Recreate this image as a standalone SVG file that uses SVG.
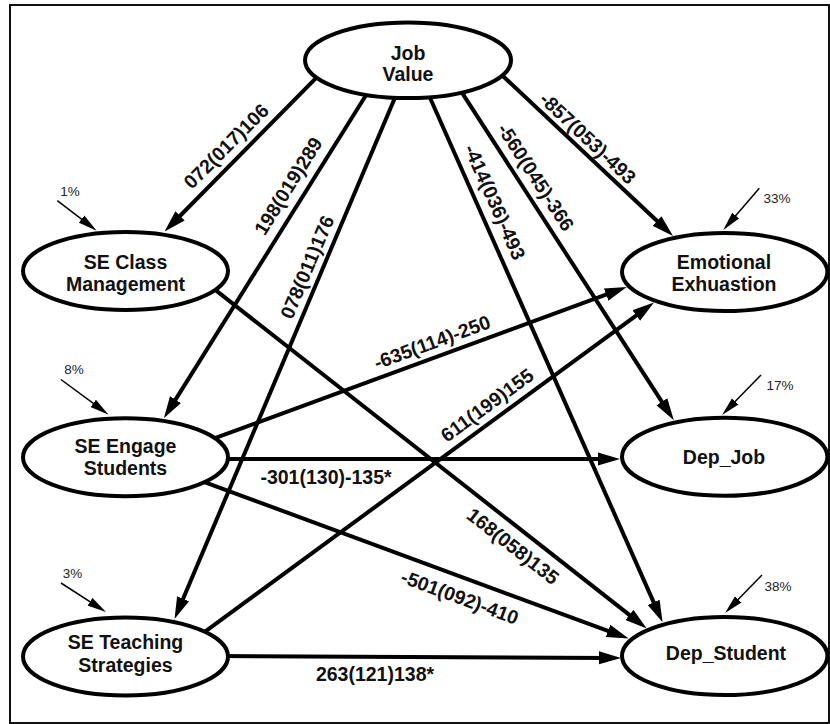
<svg xmlns="http://www.w3.org/2000/svg" width="830" height="724" viewBox="0 0 830 724">
<defs>
<style>
.frame{fill:none;stroke:#111;stroke-width:2}
.node ellipse{fill:#fff;stroke:#000;stroke-width:4}
.nt{font-family:"Liberation Sans",Arial,sans-serif;font-weight:bold;font-size:19.5px;fill:#111;text-anchor:middle}
.edge{stroke:#000;stroke-width:4;fill:none;marker-end:url(#arr)}
.lbl{font-family:"Liberation Sans",Arial,sans-serif;font-weight:bold;font-size:19.5px;fill:#111;text-anchor:middle}
.res{stroke:#000;stroke-width:1.5;fill:none;marker-end:url(#arrs)}
.pct{font-family:"Liberation Sans",Arial,sans-serif;font-size:13.5px;fill:#222;text-anchor:middle}
</style>
<marker id="arr" markerUnits="userSpaceOnUse" viewBox="0 0 22 14" markerWidth="22" markerHeight="14" refX="10" refY="7" orient="auto">
<path d="M0,0.5 L22,7 L0,13.5 z" fill="#000"/>
</marker>
<marker id="arrs" markerUnits="userSpaceOnUse" viewBox="0 0 19 10" markerWidth="19" markerHeight="10" refX="9" refY="5" orient="auto">
<path d="M0,0.5 L19,5 L0,9.5 z" fill="#000"/>
</marker>
</defs>
<rect class="frame" x="10" y="5" width="819" height="718"/>
<g id="connectors">
<line class="edge" x1="322.6" y1="71.4" x2="173" y2="223"/>
<line class="edge" x1="371" y1="87.3" x2="170.2" y2="408.1"/>
<line class="edge" x1="399.8" y1="86.2" x2="179.2" y2="608"/>
<line class="edge" x1="424.9" y1="86.3" x2="657.7" y2="611.4"/>
<line class="edge" x1="457.9" y1="86.4" x2="667.3" y2="410.2"/>
<line class="edge" x1="494" y1="67.7" x2="664.3" y2="227.8"/>
<line class="edge" x1="204.4" y1="281.4" x2="637.3" y2="621.1"/>
<line class="edge" x1="203.9" y1="442.2" x2="615.5" y2="291.1"/>
<line class="edge" x1="215" y1="459" x2="608" y2="459"/>
<line class="edge" x1="192.9" y1="477.8" x2="617.4" y2="634.4"/>
<line class="edge" x1="197.9" y1="636.9" x2="644.3" y2="309.6"/>
<line class="edge" x1="215" y1="656" x2="609" y2="657.9"/>
<text class="lbl" transform="translate(226,146) rotate(-45)" y="7">072(017)106</text>
<text class="lbl" transform="translate(288,186) rotate(-58)" y="7">198(019)289</text>
<text class="lbl" transform="translate(307,267) rotate(-67.1)" y="7">078(011)176</text>
<text class="lbl" transform="translate(495,202) rotate(66.1)" y="7">-414(036)-493</text>
<text class="lbl" transform="translate(536,177) rotate(57.1)" y="7">-560(045)-366</text>
<text class="lbl" transform="translate(588,138) rotate(43.2)" y="7">-857(053)-493</text>
<text class="lbl" transform="translate(513,546) rotate(38.1)" y="7">168(058)135</text>
<text class="lbl" transform="translate(432,342) rotate(-20.2)" y="7">-635(114)-250</text>
<text class="lbl" transform="translate(326,477)" y="7">-301(130)-135*</text>
<text class="lbl" transform="translate(460,597) rotate(20.3)" y="7">-501(092)-410</text>
<text class="lbl" transform="translate(487,405) rotate(-36.2)" y="7">611(199)155</text>
<text class="lbl" transform="translate(375,674)" y="7">263(121)138*</text>
<line class="res" x1="57.3" y1="200.7" x2="88.7" y2="224.6"/>
<line class="res" x1="60.9" y1="379.5" x2="100.5" y2="408.7"/>
<line class="res" x1="61" y1="583" x2="97.6" y2="606.6"/>
<line class="res" x1="759.3" y1="188.3" x2="729.8" y2="222.4"/>
<line class="res" x1="761" y1="375" x2="729" y2="407.8"/>
<line class="res" x1="762" y1="575" x2="732" y2="605.8"/>
<text class="pct" x="70" y="195.5">1%</text>
<text class="pct" x="74" y="374">8%</text>
<text class="pct" x="72.5" y="577.5">3%</text>
<text class="pct" x="777" y="202.5">33%</text>
<text class="pct" x="780" y="389.5">17%</text>
<text class="pct" x="778" y="591">38%</text>
</g>
<g id="job-value" class="node">
<ellipse cx="408" cy="60.3" rx="103" ry="37.8"/>
<text class="nt" x="408" y="60">Job</text>
<text class="nt" x="408" y="81">Value</text>
</g>
<g id="se-class-management" class="node">
<ellipse cx="125.5" cy="271" rx="102.5" ry="39"/>
<text class="nt" x="125.5" y="268.5">SE Class</text>
<text class="nt" x="125.5" y="290.5">Management</text>
</g>
<g id="se-engage-students" class="node">
<ellipse cx="125.5" cy="457.3" rx="102.5" ry="39"/>
<text class="nt" x="125.5" y="453.3">SE Engage</text>
<text class="nt" x="125.5" y="475">Students</text>
</g>
<g id="se-teaching-strategies" class="node">
<ellipse cx="125.5" cy="656.5" rx="102.5" ry="39"/>
<text class="nt" x="125.5" y="649.4">SE Teaching</text>
<text class="nt" x="125.5" y="671.5">Strategies</text>
</g>
<g id="emotional-exhuastion" class="node">
<ellipse cx="724.7" cy="272" rx="102.7" ry="39"/>
<text class="nt" x="724" y="268.5">Emotional</text>
<text class="nt" x="724" y="290.5">Exhuastion</text>
</g>
<g id="dep-job" class="node">
<ellipse cx="724.7" cy="456.7" rx="102.7" ry="39"/>
<text class="nt" x="724" y="463.5">Dep_Job</text>
</g>
<g id="dep-student" class="node">
<ellipse cx="724.7" cy="656" rx="102.7" ry="39"/>
<text class="nt" x="726" y="659.5">Dep_Student</text>
</g>
</svg>
